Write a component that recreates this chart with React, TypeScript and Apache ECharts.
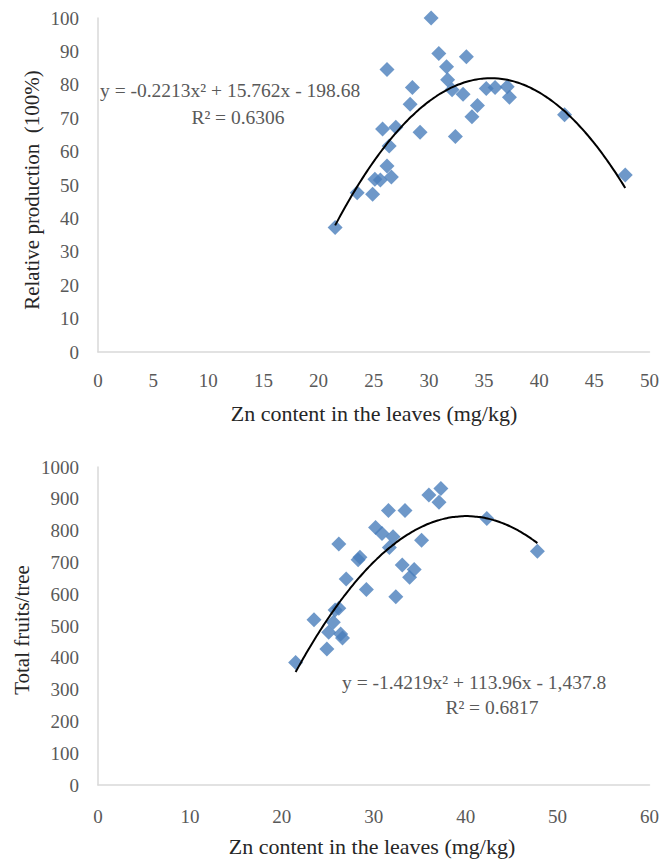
import React, { useEffect, useRef } from "react";
import * as echarts from "echarts";

// Top chart: Zn content (mg/kg) vs relative production (%)
const znTop = [21.5, 23.5, 24.9, 25.1, 25.6, 25.8, 26.2, 26.2, 26.4, 26.6, 27.0, 28.3, 28.5, 29.2, 30.2, 30.9, 31.6, 31.7, 32.1, 32.4, 33.1, 33.4, 33.9, 34.4, 35.2, 36.0, 37.1, 37.3, 42.3, 47.8];
const relProd = [37.3, 47.7, 47.2, 51.7, 51.5, 66.8, 84.6, 55.7, 61.7, 52.4, 67.3, 74.2, 79.2, 65.8, 100, 89.4, 85.4, 81.5, 78.5, 64.5, 77.2, 88.4, 70.4, 73.8, 78.9, 79.2, 79.4, 76.3, 71.0, 53.0];

// Bottom chart: Zn content (mg/kg) vs total fruits per tree
const znBottom = [21.5, 23.5, 24.9, 25.1, 25.6, 25.8, 26.2, 26.2, 26.4, 26.6, 27.0, 28.3, 28.5, 29.2, 30.2, 30.9, 31.6, 31.7, 32.1, 32.4, 33.1, 33.4, 33.9, 34.4, 35.2, 36.0, 37.1, 37.3, 42.3, 47.8];
const fruits = [385, 520, 428, 480, 512, 550, 758, 556, 475, 462, 648, 708, 716, 615, 810, 791, 863, 747, 781, 592, 692, 863, 653, 678, 770, 912, 889, 932, 838, 735];

// Trendline coefficients as printed on the chart (a x^2 + b x + c)
const topCoef = [-0.2213, 15.762, -198.68];
const botCoef = [-1.4219, 113.96, -1437.8];

const topTicksX = { min: 0, max: 50, interval: 5 };
const topTicksY = { min: 0, max: 100, interval: 10 };
const botTicksX = { min: 0, max: 60, interval: 10 };
const botTicksY = { min: 0, max: 1000, interval: 100 };

const topEq = "y = -0.2213x² + 15.762x - 198.68";
const topR2 = "R² = 0.6306";
const botEq = "y = -1.4219x² + 113.96x - 1,437.8";
const botR2 = "R² = 0.6817";

const xTitle = "Zn content in the leaves (mg/kg)";
const topYTitle = "Relative production  (100%)";
const botYTitle = "Total fruits/tree";

function trend(xs: number[], coef: number[]) {
  const lo = Math.min(...xs);
  const hi = Math.max(...xs);
  const pts: number[][] = [];
  const n = 80;
  for (let i = 0; i <= n; i++) {
    const x = lo + ((hi - lo) * i) / n;
    pts.push([x, coef[0] * x * x + coef[1] * x + coef[2]]);
  }
  return pts;
}

const FONT = "'Liberation Serif', 'DejaVu Serif', serif";
const GRAY = "#595959";
const AXIS = "#d9d9d9";
const BLUE = "#4a7ebb";

export default function App() {
  const ref = useRef<HTMLDivElement>(null);
  useEffect(() => {
    if (!ref.current) return;
    const chart = echarts.init(ref.current, undefined, { renderer: "svg" });
    const axisCommon = {
      axisLine: { show: true, lineStyle: { color: AXIS, width: 1.5 } },
      axisTick: { show: false },
      splitLine: { show: false },
    };
    const fmt = (v: number) => String(v);
    const xLabel = (m: number) => ({ color: GRAY, fontFamily: FONT, fontSize: 19, margin: m, formatter: fmt });
    const yLabel = { color: GRAY, fontFamily: FONT, fontSize: 19, margin: 19, formatter: fmt };
    chart.setOption({
      animation: false,
      backgroundColor: "#fff",
      grid: [
        { left: 98, right: 10, top: 18, height: 334 },
        { left: 98, right: 10, top: 467, height: 318 },
      ],
      xAxis: [
        { type: "value", gridIndex: 0, ...topTicksX, ...axisCommon, axisLabel: xLabel(19) },
        { type: "value", gridIndex: 1, ...botTicksX, ...axisCommon, axisLabel: xLabel(22) },
      ],
      yAxis: [
        { type: "value", gridIndex: 0, ...topTicksY, ...axisCommon, axisLabel: yLabel },
        { type: "value", gridIndex: 1, ...botTicksY, ...axisCommon, axisLabel: yLabel },
      ],
      series: [
        {
          type: "line",
          xAxisIndex: 0,
          yAxisIndex: 0,
          data: trend(znTop, topCoef),
          showSymbol: false,
          smooth: true,
          lineStyle: { color: "#000", width: 2 },
          z: 3,
        },
        {
          type: "scatter",
          xAxisIndex: 0,
          yAxisIndex: 0,
          data: znTop.map((x, i) => [x, relProd[i]]),
          symbol: "diamond",
          symbolSize: 15,
          itemStyle: { color: BLUE },
          z: 2,
        },
        {
          type: "line",
          xAxisIndex: 1,
          yAxisIndex: 1,
          data: trend(znBottom, botCoef),
          showSymbol: false,
          smooth: true,
          lineStyle: { color: "#000", width: 2 },
          z: 3,
        },
        {
          type: "scatter",
          xAxisIndex: 1,
          yAxisIndex: 1,
          data: znBottom.map((x, i) => [x, fruits[i]]),
          symbol: "diamond",
          symbolSize: 15,
          itemStyle: { color: BLUE },
          z: 2,
        },
      ],
      graphic: [
        { type: "text", x: 100, y: 90, style: { text: topEq, fill: GRAY, font: `19.5px ${FONT}`, textAlign: "left", textVerticalAlign: "middle" } },
        { type: "text", x: 238, y: 117, style: { text: topR2, fill: GRAY, font: `19.5px ${FONT}`, textAlign: "center", textVerticalAlign: "middle" } },
        { type: "text", x: 342, y: 682, style: { text: botEq, fill: GRAY, font: `19.5px ${FONT}`, textAlign: "left", textVerticalAlign: "middle" } },
        { type: "text", x: 492, y: 707, style: { text: botR2, fill: GRAY, font: `19.5px ${FONT}`, textAlign: "center", textVerticalAlign: "middle" } },
        { type: "text", x: 374, y: 413, style: { text: xTitle, fill: "#262626", font: `22px ${FONT}`, textAlign: "center", textVerticalAlign: "middle" } },
        { type: "text", x: 372, y: 846, style: { text: xTitle, fill: "#262626", font: `22px ${FONT}`, textAlign: "center", textVerticalAlign: "middle" } },
        { type: "text", x: 32, y: 190, rotation: Math.PI / 2, style: { text: topYTitle, fill: "#262626", font: `21px ${FONT}`, textAlign: "center", textVerticalAlign: "middle" } },
        { type: "text", x: 22, y: 630, rotation: Math.PI / 2, style: { text: botYTitle, fill: "#262626", font: `21px ${FONT}`, textAlign: "center", textVerticalAlign: "middle" } },
      ],
    });
    return () => chart.dispose();
  }, []);
  return (
    <div
      ref={ref}
      style={{ position: "absolute", left: 0, top: 0, width: 662, height: 861, background: "#fff" }}
    />
  );
}
